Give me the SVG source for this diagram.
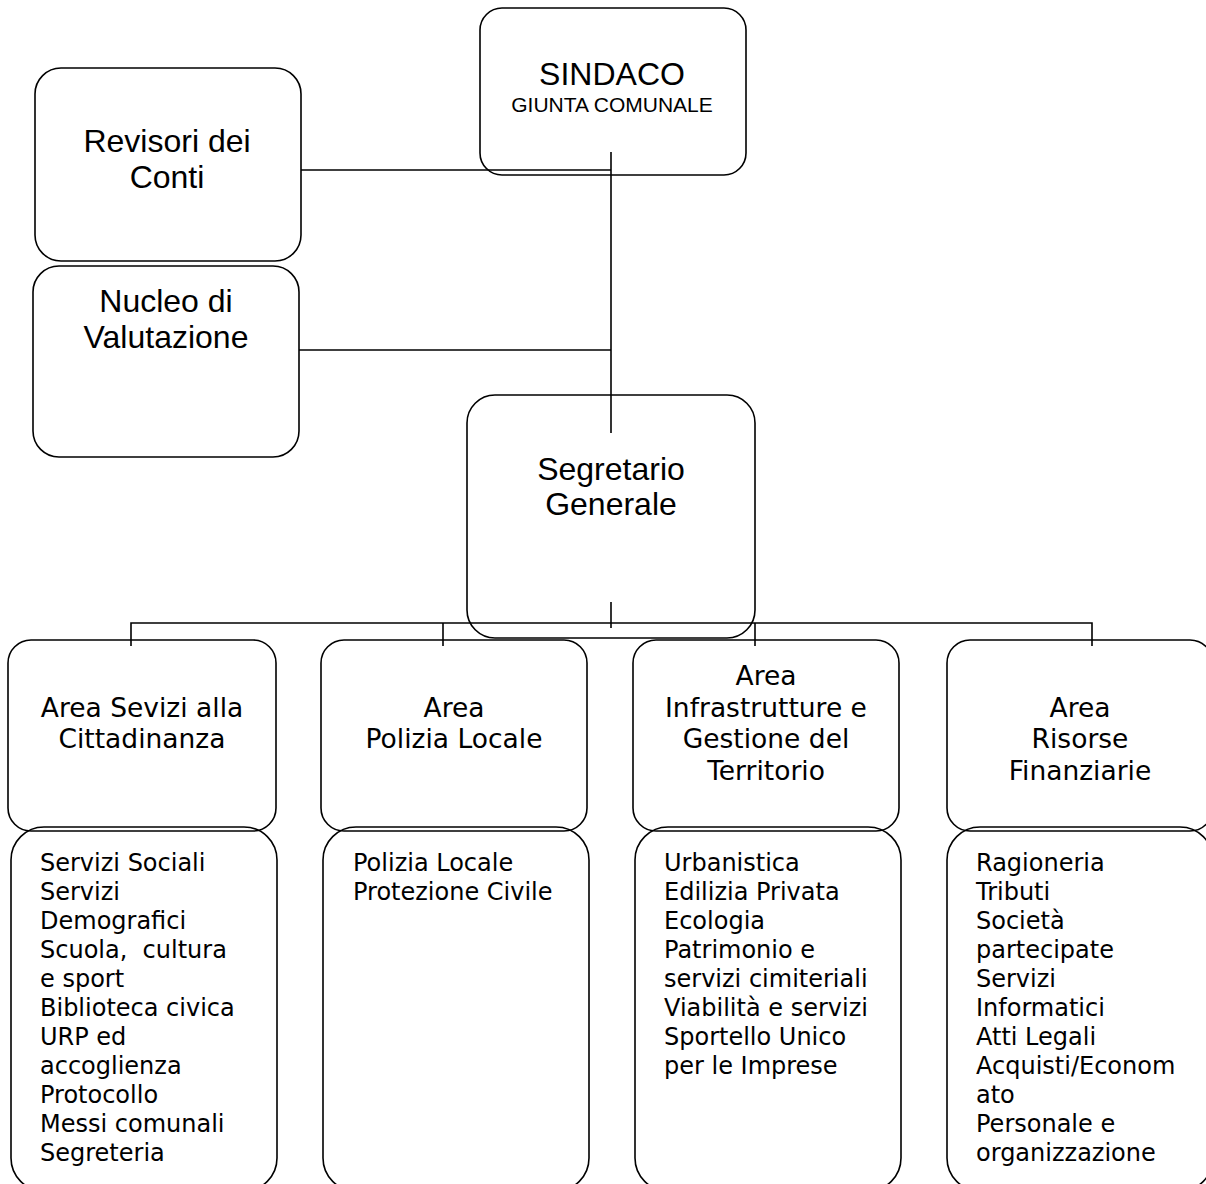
<svg xmlns="http://www.w3.org/2000/svg" width="1206" height="1184" viewBox="0 0 1206 1184">
<style>
.box{fill:none;stroke:#000;stroke-width:1.6}
.ln{fill:none;stroke:#000;stroke-width:1.6}
.a{font-family:"Liberation Sans",Arial,sans-serif;font-size:32px;fill:#000;text-anchor:middle}
.a2{font-family:"Liberation Sans",Arial,sans-serif;font-size:21px;fill:#000;text-anchor:middle}
.h{font-family:"DejaVu Sans",Verdana,sans-serif;font-size:26.5px;fill:#000;text-anchor:middle}
.l{font-family:"DejaVu Sans",Verdana,sans-serif;font-size:24px;fill:#000}
</style>
<rect width="1206" height="1184" fill="#fff"/>
<g id="connectors">
<path class="ln" d="M611 152V433"/>
<path class="ln" d="M301 170H611"/>
<path class="ln" d="M299 350H611"/>
<path class="ln" d="M611 602V628"/>
<path class="ln" d="M131 646V623H1092V646"/>
<path class="ln" d="M443 623V646"/>
<path class="ln" d="M755 623V646"/>
</g>
<g id="sindaco">
<rect class="box" x="480" y="8" width="266" height="167" rx="22"/>
<text class="a" x="612" y="85">SINDACO</text>
<text class="a2" x="612" y="112">GIUNTA COMUNALE</text>
</g>
<g id="revisori">
<rect class="box" x="35" y="68" width="266" height="193" rx="26"/>
<text class="a" x="167" y="152">Revisori dei</text>
<text class="a" x="167" y="188">Conti</text>
</g>
<g id="nucleo">
<rect class="box" x="33" y="266" width="266" height="191" rx="26"/>
<text class="a" x="166" y="312">Nucleo di</text>
<text class="a" x="166" y="348">Valutazione</text>
</g>
<g id="segretario">
<rect class="box" x="467" y="395" width="288" height="243" rx="28"/>
<text class="a" x="611" y="480">Segretario</text>
<text class="a" x="611" y="515">Generale</text>
</g>
<g id="area1">
<rect class="box" x="8" y="640" width="268" height="191" rx="23"/>
<text class="h" x="142" y="717">Area Sevizi alla</text>
<text class="h" x="142" y="748">Cittadinanza</text>
</g>
<g id="area2">
<rect class="box" x="321" y="640" width="266" height="191" rx="23"/>
<text class="h" x="454" y="717">Area</text>
<text class="h" x="454" y="748">Polizia Locale</text>
</g>
<g id="area3">
<rect class="box" x="633" y="640" width="266" height="191" rx="23"/>
<text class="h" x="766" y="685">Area</text>
<text class="h" x="766" y="717">Infrastrutture e</text>
<text class="h" x="766" y="748">Gestione del</text>
<text class="h" x="766" y="780">Territorio</text>
</g>
<g id="area4">
<rect class="box" x="947" y="640" width="266" height="191" rx="23"/>
<text class="h" x="1080" y="717">Area</text>
<text class="h" x="1080" y="748">Risorse</text>
<text class="h" x="1080" y="780">Finanziarie</text>
</g>
<g id="list1">
<rect class="box" x="11" y="827" width="266" height="364" rx="33"/>
<text class="l" x="40" y="871">Servizi Sociali</text>
<text class="l" x="40" y="900">Servizi</text>
<text class="l" x="40" y="929">Demografici</text>
<text class="l" x="40" y="958" xml:space="preserve">Scuola,  cultura</text>
<text class="l" x="40" y="987">e sport</text>
<text class="l" x="40" y="1016">Biblioteca civica</text>
<text class="l" x="40" y="1045">URP ed</text>
<text class="l" x="40" y="1074">accoglienza</text>
<text class="l" x="40" y="1103">Protocollo</text>
<text class="l" x="40" y="1132">Messi comunali</text>
<text class="l" x="40" y="1161">Segreteria</text>
</g>
<g id="list2">
<rect class="box" x="323" y="827" width="266" height="364" rx="33"/>
<text class="l" x="353" y="871">Polizia Locale</text>
<text class="l" x="353" y="900">Protezione Civile</text>
</g>
<g id="list3">
<rect class="box" x="635" y="827" width="266" height="364" rx="33"/>
<text class="l" x="664" y="871">Urbanistica</text>
<text class="l" x="664" y="900">Edilizia Privata</text>
<text class="l" x="664" y="929">Ecologia</text>
<text class="l" x="664" y="958">Patrimonio e</text>
<text class="l" x="664" y="987">servizi cimiteriali</text>
<text class="l" x="664" y="1016">Viabilità e servizi</text>
<text class="l" x="664" y="1045">Sportello Unico</text>
<text class="l" x="664" y="1074">per le Imprese</text>
</g>
<g id="list4">
<rect class="box" x="947" y="827" width="266" height="364" rx="33"/>
<text class="l" x="976" y="871">Ragioneria</text>
<text class="l" x="976" y="900">Tributi</text>
<text class="l" x="976" y="929">Società</text>
<text class="l" x="976" y="958">partecipate</text>
<text class="l" x="976" y="987">Servizi</text>
<text class="l" x="976" y="1016">Informatici</text>
<text class="l" x="976" y="1045">Atti Legali</text>
<text class="l" x="976" y="1074">Acquisti/Econom</text>
<text class="l" x="976" y="1103">ato</text>
<text class="l" x="976" y="1132">Personale e</text>
<text class="l" x="976" y="1161">organizzazione</text>
</g>
</svg>
